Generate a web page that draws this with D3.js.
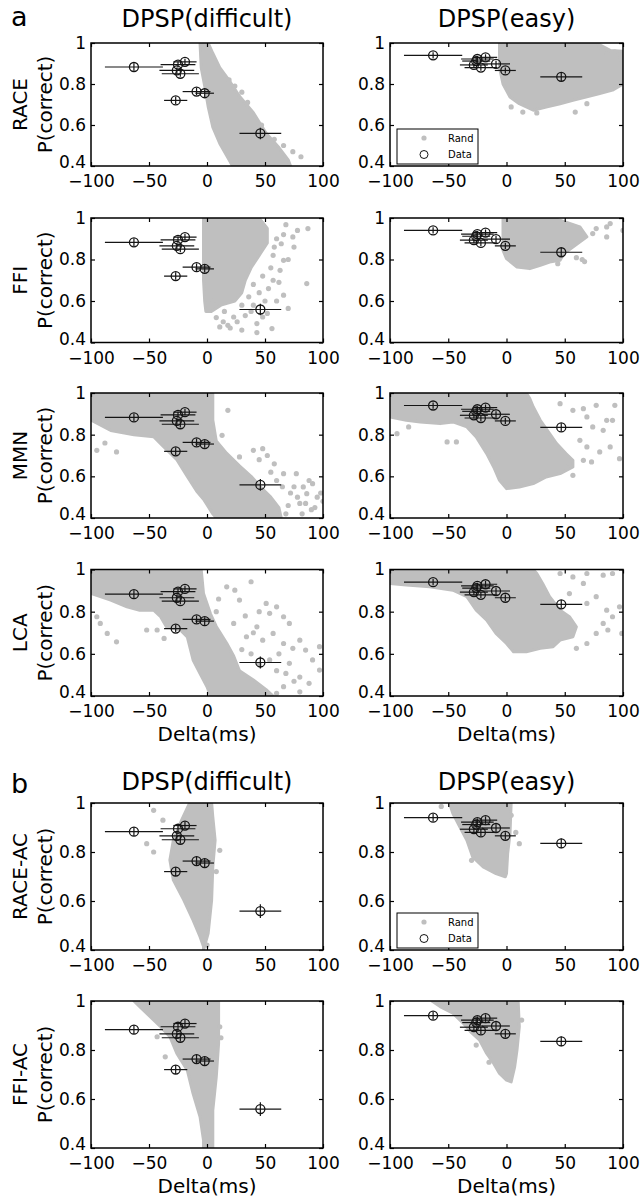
<!DOCTYPE html>
<html lang="en">
<head>
<meta charset="utf-8">
<title>DPSP model fits</title>
<script src="https://d3js.org/d3.v7.min.js"></script>
<style>
  body { margin: 0; background: #fff; }
  text { font-family: "DejaVu Sans", sans-serif; fill: #000; }
</style>
</head>
<body>
<script>
// tick values and labels
var xTicks = [-100, -50, 0, 50, 100];
var yTicks = [0.4, 0.6, 0.8, 1];
var models = ["RACE", "FFI", "MMN", "LCA", "RACE-AC", "FFI-AC"];
var conditions = ["DPSP(difficult)", "DPSP(easy)"];
var partLabels = ["a", "b"];

// measured data, difficult condition
var diffDelta = [-63, -19, -25, -26, -23, -9, -2, -27, 46];
var diffP = [0.883, 0.908, 0.895, 0.866, 0.850, 0.763, 0.755, 0.720, 0.559];
var diffDeltaErr = [25, 10, 15, 15, 16, 12, 8, 10, 18];
var diffPErr = [0.018, 0.015, 0.015, 0.015, 0.015, 0.018, 0.018, 0.018, 0.028];

// measured data, easy condition
var easyDelta = [-63, -18, -25, -26, -28, -22, -9, -1, 47];
var easyP = [0.940, 0.930, 0.922, 0.912, 0.893, 0.880, 0.898, 0.866, 0.835];
var easyDeltaErr = [25, 10, 14, 12, 12, 14, 12, 9, 18];
var easyPErr = [0.015, 0.015, 0.015, 0.015, 0.015, 0.015, 0.015, 0.015, 0.02];

// random-parameter simulations: outline of the dense cloud + stray points
var raceDiffCloud = [[-6,1],[1,1],[5,0.95],[11,0.88],[20,0.81],[28,0.74],[40,0.66],[51,0.56],[62,0.49],[70,0.43],[72,0.4],[22,0.4],[19,0.43],[11,0.51],[5,0.59],[1,0.69],[-2,0.79],[-5,0.88]];
var raceDiffDots = [[19,0.82],[24,0.79],[81,0.445],[74,0.47],[66,0.5],[58,0.53],[47,0.6],[35,0.71],[30,0.76]];

var ffiDiffCloud = [[-3,1],[45,1],[52,0.95],[52,0.88],[45,0.82],[38,0.76],[33,0.7],[30,0.64],[24,0.6],[12,0.58],[4,0.55],[-1,0.55],[-2,0.6],[-3,0.7]];
var ffiDiffDots = [[68,0.968],[87,0.949],[74,0.909],[64,0.876],[66,0.796],[86,0.684],[63,0.748],[57,0.7],[66,0.628],[70,0.564],[48,0.523],[43,0.491],[56,0.467],[43,0.448],[18,0.483],[11,0.475],[23,0.523],[5,0.6],[30,0.58],[38,0.55],[15,0.55],[57,0.82],[60,0.9],[75,0.86],
  [8,0.52],[14,0.5],[26,0.5],[33,0.53],[40,0.58],[50,0.6],[45,0.64],[53,0.66],[60,0.6],[62,0.69],[55,0.76],[48,0.72],[70,0.8],[58,0.86],[66,0.92],[78,0.94],[52,0.54],[30,0.46],[20,0.47],[40,0.68],[36,0.62]];

var mmnDiffCloud = [[-100,1],[5,1],[5,0.87],[8,0.77],[17,0.71],[28,0.65],[38,0.6],[46,0.55],[55,0.5],[62,0.45],[64,0.4],[8,0.4],[5,0.42],[-3,0.49],[-9,0.53],[-17,0.6],[-26,0.68],[-37,0.74],[-46,0.79],[-63,0.8],[-83,0.82],[-100,0.87]];
var mmnDiffDots = [[-95,0.725],[-78,0.717],[-88,0.76],[18,0.917],[13,0.797],[48,0.733],[40,0.725],[28,0.693],[66,0.613],[77,0.613],[91,0.565],[83,0.549],[86,0.517],[95,0.5],[75,0.55],[70,0.46],[80,0.47],[90,0.44],[98,0.52],
  [60,0.58],[72,0.52],[85,0.47],[93,0.45],[100,0.48],[78,0.5],[65,0.55],[88,0.58],[55,0.62],[58,0.66],[52,0.7],[45,0.68],[68,0.42],[82,0.42]];

var lcaDiffCloud = [[-100,1],[-5,1],[-3,0.886],[3,0.79],[8,0.73],[17,0.65],[23,0.59],[28,0.52],[40,0.476],[51,0.43],[57,0.4],[3,0.4],[0,0.444],[-6,0.507],[-12,0.571],[-17,0.68],[-23,0.713],[-35,0.728],[-40,0.776],[-46,0.807],[-58,0.807],[-69,0.823],[-83,0.855],[-100,0.886]];
var lcaDiffDots = [[17,0.918],[24,0.902],[38,0.942],[28,0.855],[51,0.839],[60,0.823],[54,0.792],[66,0.776],[71,0.744],[43,0.728],[23,0.744],[34,0.681],[48,0.665],[57,0.697],[66,0.649],[74,0.626],[80,0.665],[85,0.618],[97,0.634],[91,0.571],[97,0.523],[71,0.555],[54,0.571],[68,0.507],[80,0.49],[66,0.444],[60,0.413],[80,0.42],[-95,0.776],[-92,0.744],[-86,0.697],[-78,0.657],[-52,0.713],[-43,0.713],[-37,0.673],
  [30,0.62],[38,0.6],[45,0.55],[60,0.52],[75,0.47],[88,0.46],[62,0.6],[40,0.7],[33,0.78],[10,0.86],[8,0.8],[45,0.8]];

var raceEasyCloud = [[-6,1],[77,1],[89,0.964],[100,0.96],[100,0.8],[91,0.77],[80,0.753],[69,0.737],[57,0.72],[46,0.704],[34,0.688],[23,0.672],[11,0.704],[3,0.737],[-3,0.8],[-6,0.88]];
var raceEasyDots = [[4,0.688],[14,0.663],[26,0.659],[59,0.663],[69,0.704],[93,0.956],[98,0.924],[86,0.948],[80,0.98]];

var ffiEasyCloud = [[-3,1],[40,1],[51,0.98],[63,0.957],[69,0.909],[57,0.86],[49,0.828],[46,0.796],[37,0.788],[29,0.772],[20,0.756],[9,0.764],[0,0.804],[-3,0.844]];
var ffiEasyDots = [[77,0.949],[86,0.957],[89,0.973],[86,0.909],[100,0.94],[74,0.925],[60,0.809],[44,0.78],[65,0.8],[67,0.79]];

var mmnEasyCloud = [[-100,1],[17,1],[20,0.973],[23,0.933],[29,0.869],[37,0.805],[43,0.757],[51,0.709],[57,0.677],[57,0.645],[46,0.613],[34,0.597],[23,0.565],[11,0.549],[0,0.541],[-6,0.581],[-11,0.645],[-17,0.709],[-26,0.789],[-34,0.837],[-46,0.861],[-57,0.853],[-74,0.861],[-86,0.869],[-100,0.885]];
var mmnEasyDots = [[-94,0.805],[-84,0.837],[-51,0.765],[-43,0.765],[46,0.949],[57,0.917],[66,0.925],[77,0.941],[93,0.941],[69,0.885],[74,0.837],[86,0.869],[83,0.821],[91,0.869],[63,0.773],[69,0.741],[80,0.717],[89,0.741],[97,0.685],[66,0.677],[73,0.669],[51,0.645],[57,0.605]];

var lcaEasyCloud = [[-100,1],[23,1],[26,0.981],[31,0.934],[37,0.871],[46,0.807],[54,0.776],[60,0.728],[57,0.681],[46,0.665],[40,0.634],[29,0.626],[17,0.61],[6,0.61],[0,0.649],[-9,0.697],[-17,0.76],[-26,0.807],[-34,0.871],[-46,0.902],[-66,0.918],[-86,0.926],[-100,0.934]];
var lcaEasyDots = [[46,0.981],[57,0.965],[69,0.981],[83,0.973],[91,0.981],[54,0.886],[66,0.934],[77,0.871],[86,0.807],[69,0.839],[83,0.744],[91,0.776],[97,0.823],[99,0.697],[77,0.697],[69,0.649],[60,0.626],[87,0.713]];

var raceAcDiffCloud = [[-15,1],[4,1],[5,0.943],[7,0.848],[5,0.739],[4,0.604],[1,0.468],[-3,0.4],[-3,0.414],[-6,0.454],[-12,0.522],[-20,0.604],[-29,0.685],[-32,0.767],[-29,0.848],[-22,0.929]];
var raceAcDiffDots = [[-46,0.97],[-52,0.834],[-46,0.8],[11,0.807],[-38,0.93],[8,0.72],[0,0.42]];

var ffiAcDiffCloud = [[-63,1],[10,1],[10,0.827],[8,0.69],[5,0.554],[5,0.4],[-3,0.4],[-3,0.431],[-6,0.527],[-12,0.622],[-17,0.718],[-26,0.786],[-32,0.854],[-40,0.895],[-49,0.936],[-58,0.977]];
var ffiAcDiffDots = [[-43,0.854],[-36,0.772],[11,0.895],[12,0.85]];

var raceAcEasyCloud = [[-49,1],[4,1],[3,0.875],[1,0.794],[0,0.712],[-1,0.699],[-9,0.712],[-20,0.739],[-29,0.78],[-34,0.848],[-40,0.902],[-46,0.957]];
var raceAcEasyDots = [[4,0.95],[11,0.834],[-30,0.766],[-56,0.986],[8,0.88]];

var ffiAcEasyCloud = [[-64,1],[10,1],[11,0.895],[9,0.8],[7,0.731],[4,0.67],[0,0.677],[-6,0.704],[-11,0.745],[-17,0.786],[-23,0.84],[-31,0.875],[-37,0.909],[-46,0.95],[-57,0.977]];
var ffiAcEasyDots = [[-26,0.82],[13,0.922],[-15,0.75]];

// page layout
var width = 641, height = 1200;
var rowTop = [43, 218, 393, 569.5, 803, 1001];
var rowBottom = [166, 342.5, 518, 696, 950, 1148];
var colLeft = [91, 390], colRight = [323, 623];
var gray = "#bfbfbf";
var ink = "#151515";

var clouds = [
  [raceDiffCloud, raceEasyCloud], [ffiDiffCloud, ffiEasyCloud],
  [mmnDiffCloud, mmnEasyCloud], [lcaDiffCloud, lcaEasyCloud],
  [raceAcDiffCloud, raceAcEasyCloud], [ffiAcDiffCloud, ffiAcEasyCloud]
];
var strays = [
  [raceDiffDots, raceEasyDots], [ffiDiffDots, ffiEasyDots],
  [mmnDiffDots, mmnEasyDots], [lcaDiffDots, lcaEasyDots],
  [raceAcDiffDots, raceAcEasyDots], [ffiAcDiffDots, ffiAcEasyDots]
];
var measured = [
  d3.range(diffDelta.length).map(function(i) { return {x: diffDelta[i], y: diffP[i], ex: diffDeltaErr[i], ey: diffPErr[i]}; }),
  d3.range(easyDelta.length).map(function(i) { return {x: easyDelta[i], y: easyP[i], ex: easyDeltaErr[i], ey: easyPErr[i]}; })
];

var svg = d3.select("body").append("svg")
  .attr("width", width)
  .attr("height", height);

models.forEach(function(model, r) {
  [0, 1].forEach(function(c) {
    var x = d3.scaleLinear().domain([-100, 100]).range([colLeft[c], colRight[c]]);
    var y = d3.scaleLinear().domain([0.4, 1]).range([rowBottom[r], rowTop[r]]);
    var g = svg.append("g");
    var clipId = "clip" + r + "_" + c;

    svg.append("clipPath").attr("id", clipId)
      .append("rect")
      .attr("x", colLeft[c]).attr("y", rowTop[r])
      .attr("width", colRight[c] - colLeft[c])
      .attr("height", rowBottom[r] - rowTop[r]);

    var plot = g.append("g").attr("clip-path", "url(#" + clipId + ")");

    // simulation cloud
    var line = d3.line()
      .x(function(d) { return x(d[0]); })
      .y(function(d) { return y(d[1]); })
      .curve(d3.curveLinearClosed);
    plot.append("path")
      .attr("d", line(clouds[r][c]))
      .attr("fill", gray)
      .attr("stroke", gray)
      .attr("stroke-width", 3)
      .attr("stroke-linejoin", "round");
    plot.selectAll("circle.rand")
      .data(strays[r][c])
      .enter().append("circle")
      .attr("class", "rand")
      .attr("cx", function(d) { return x(d[0]); })
      .attr("cy", function(d) { return y(d[1]); })
      .attr("r", 2.6)
      .attr("fill", gray);

    // measured data with error bars
    var pts = plot.selectAll("g.pt")
      .data(measured[c])
      .enter().append("g").attr("class", "pt");
    pts.append("line")
      .attr("x1", function(d) { return x(d.x - d.ex); })
      .attr("x2", function(d) { return x(d.x + d.ex); })
      .attr("y1", function(d) { return y(d.y); })
      .attr("y2", function(d) { return y(d.y); })
      .attr("stroke", ink).attr("stroke-width", 1.2);
    pts.append("line")
      .attr("x1", function(d) { return x(d.x); })
      .attr("x2", function(d) { return x(d.x); })
      .attr("y1", function(d) { return y(d.y - d.ey); })
      .attr("y2", function(d) { return y(d.y + d.ey); })
      .attr("stroke", ink).attr("stroke-width", 1.2);
    pts.append("circle")
      .attr("cx", function(d) { return x(d.x); })
      .attr("cy", function(d) { return y(d.y); })
      .attr("r", 4.5)
      .attr("fill", "none")
      .attr("stroke", ink).attr("stroke-width", 1.3);

    // axes (inward ticks all round)
    g.append("g")
      .attr("transform", "translate(0," + rowBottom[r] + ")")
      .call(d3.axisBottom(x).tickValues(xTicks).tickSizeInner(-4).tickSizeOuter(0).tickPadding(9));
    var yAx = g.append("g")
      .attr("transform", "translate(" + colLeft[c] + ",0)")
      .call(d3.axisLeft(y).tickValues(yTicks).tickSizeInner(-4).tickSizeOuter(0).tickPadding(5)
        .tickFormat(function(d) { return d === 1 ? "1" : d3.format(".1f")(d); }));
    // lowest label sits a touch higher so it clears the x labels
    yAx.selectAll(".tick").filter(function(d) { return d === 0.4; })
      .select("text").attr("dy", "0.1em");
    g.append("g")
      .attr("transform", "translate(0," + rowTop[r] + ")")
      .call(d3.axisTop(x).tickValues(xTicks).tickSizeInner(-4).tickSizeOuter(0).tickFormat(""));
    g.append("g")
      .attr("transform", "translate(" + colRight[c] + ",0)")
      .call(d3.axisRight(y).tickValues(yTicks).tickSizeInner(-4).tickSizeOuter(0).tickFormat(""));
    g.selectAll(".domain").remove();
    g.selectAll(".tick line").attr("stroke", "#000").attr("stroke-width", 1.2);
    g.selectAll(".tick text")
      .attr("font-family", "DejaVu Sans, sans-serif")
      .attr("font-size", 17)
      .attr("fill", "#000");

    g.append("rect")
      .attr("x", colLeft[c]).attr("y", rowTop[r])
      .attr("width", colRight[c] - colLeft[c])
      .attr("height", rowBottom[r] - rowTop[r])
      .attr("fill", "none")
      .attr("stroke", "#000")
      .attr("stroke-width", 1.5);

    // legend in the easy panels of RACE and RACE-AC
    if (c === 1 && (r === 0 || r === 4)) {
      var lx = colLeft[c] + 7, ly = rowBottom[r] - 37;
      var lg = g.append("g").attr("transform", "translate(" + lx + "," + ly + ")");
      lg.append("rect").attr("width", 81).attr("height", 35)
        .attr("fill", "#fff").attr("stroke", "#000").attr("stroke-width", 1);
      lg.append("circle").attr("cx", 27).attr("cy", 9).attr("r", 2.6).attr("fill", gray);
      lg.append("circle").attr("cx", 27).attr("cy", 25.5).attr("r", 4)
        .attr("fill", "none").attr("stroke", ink).attr("stroke-width", 1);
      lg.append("text").attr("x", 51).attr("y", 12.5).attr("font-size", 10).text("Rand");
      lg.append("text").attr("x", 51).attr("y", 29).attr("font-size", 10).text("Data");
    }

    // model name + y label on the left column
    if (c === 0) {
      var cy = (rowTop[r] + rowBottom[r]) / 2;
      svg.append("text")
        .attr("transform", "translate(26.5," + cy + ") rotate(-90)")
        .attr("text-anchor", "middle").attr("font-size", 20)
        .text(model);
      svg.append("text")
        .attr("transform", "translate(51.5," + cy + ") rotate(-90)")
        .attr("text-anchor", "middle").attr("font-size", 20)
        .text("P(correct)");
    }

    // condition titles on top of each part
    if (r === 0 || r === 4) {
      svg.append("text")
        .attr("x", (colLeft[c] + colRight[c]) / 2)
        .attr("y", rowTop[r] - (r === 0 ? 16 : 13))
        .attr("text-anchor", "middle").attr("font-size", 24)
        .text(conditions[c]);
    }

    // x label under the last row of each part
    if (r === 3 || r === 5) {
      svg.append("text")
        .attr("x", (colLeft[c] + colRight[c]) / 2)
        .attr("y", rowBottom[r] + 44.5)
        .attr("text-anchor", "middle").attr("font-size", 20)
        .text("Delta(ms)");
    }
  });
});

// part letters
svg.append("text").attr("x", 11).attr("y", 26).attr("font-size", 27).text(partLabels[0]);
svg.append("text").attr("x", 11).attr("y", 793).attr("font-size", 27).text(partLabels[1]);
</script>
</body>
</html>
